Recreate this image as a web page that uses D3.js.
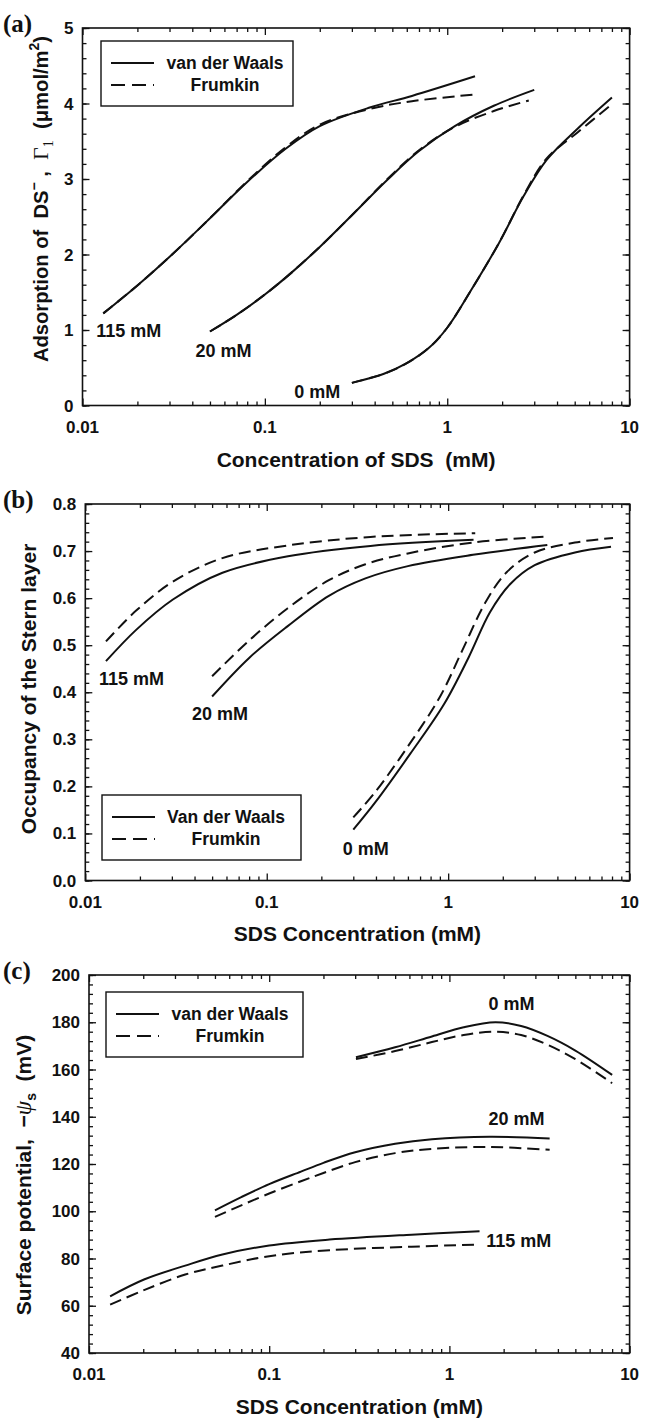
<!DOCTYPE html>
<html>
<head>
<meta charset="utf-8">
<script src="https://cdn.jsdelivr.net/npm/d3@7/dist/d3.min.js"></script>
<style>
  body { margin: 0; background: #fff; }
  svg { font-family: "Liberation Sans", Arial, Helvetica, sans-serif; font-weight: bold; }
  text { white-space: pre; }
</style>
</head>
<body>
<svg id="fig" width="646" height="1420"></svg>
<script>
// ---- datos ----
const xTickValues = [0.01, 0.1, 1, 10];
const xTickLabels = ["0.01", "0.1", "1", "10"];

// (a) adsorcion de DS- (umol/m2)
const yTicksA = [0, 1, 2, 3, 4, 5];
const a115vdw = [[0.013,1.22],[0.02,1.59],[0.031,2.0],[0.05,2.48],[0.08,2.96],[0.13,3.4],[0.2,3.7],[0.38,3.95],[0.64,4.1],[1.42,4.36]];
const a115fr  = [[0.013,1.22],[0.02,1.59],[0.031,2.0],[0.05,2.48],[0.08,2.97],[0.13,3.42],[0.2,3.72],[0.38,3.93],[0.64,4.03],[1.42,4.12]];
const a20vdw  = [[0.05,0.98],[0.07,1.2],[0.1,1.47],[0.14,1.76],[0.2,2.1],[0.3,2.52],[0.47,2.99],[0.7,3.37],[1.1,3.7],[1.8,3.97],[3.0,4.18]];
const a20fr   = [[0.05,0.98],[0.07,1.2],[0.1,1.47],[0.14,1.76],[0.2,2.1],[0.3,2.52],[0.47,3.0],[0.7,3.38],[1.1,3.69],[1.8,3.9],[2.8,4.04]];
const a0vdw   = [[0.3,0.3],[0.45,0.42],[0.6,0.56],[0.8,0.77],[1.0,1.03],[1.33,1.5],[1.92,2.15],[2.62,2.77],[3.5,3.25],[5.2,3.67],[8.0,4.08]];
const a0fr    = [[0.3,0.3],[0.45,0.42],[0.6,0.56],[0.8,0.77],[1.0,1.03],[1.33,1.5],[1.92,2.15],[2.62,2.78],[3.5,3.27],[5.2,3.62],[8.0,3.99]];
const labelsA = [["115 mM",0.0119,0.91],["20 mM",0.0417,0.64],["0 mM",0.145,0.10]];

// (b) ocupacion de la capa de Stern
const yTicksB = [0, 0.1, 0.2, 0.3, 0.4, 0.5, 0.6, 0.7, 0.8];
const b115vdw = [[0.013,0.466],[0.019,0.532],[0.0304,0.597],[0.057,0.654],[0.131,0.689],[0.373,0.711],[1.38,0.724]];
const b115fr  = [[0.013,0.508],[0.019,0.573],[0.0304,0.635],[0.057,0.685],[0.131,0.712],[0.373,0.73],[1.41,0.738]];
const b20vdw  = [[0.05,0.391],[0.08,0.473],[0.13,0.54],[0.22,0.605],[0.35,0.642],[0.6,0.668],[1.37,0.692],[3.52,0.713]];
const b20fr   = [[0.05,0.434],[0.08,0.51],[0.13,0.578],[0.22,0.638],[0.35,0.672],[0.6,0.695],[1.37,0.718],[3.52,0.731]];
const b0vdw   = [[0.3,0.108],[0.4,0.168],[0.62,0.27],[0.95,0.375],[1.3,0.475],[1.7,0.57],[2.2,0.63],[3.0,0.67],[5.0,0.697],[7.9,0.709]];
const b0fr    = [[0.3,0.134],[0.4,0.19],[0.6,0.285],[0.9,0.39],[1.2,0.49],[1.6,0.59],[2.1,0.655],[3.0,0.697],[5.0,0.718],[8.1,0.728]];
const labelsB = [["115 mM",0.0119,0.415],["20 mM",0.0387,0.341],["0 mM",0.262,0.054]];

// (c) potencial superficial (mV)
const yTicksC = [40, 60, 80, 100, 120, 140, 160, 180, 200];
const c0vdw   = [[0.303,165.2],[0.5,169.4],[0.8,174.0],[1.2,177.9],[1.8,180.0],[2.5,178.4],[3.5,174.2],[5.0,168.0],[8.0,157.7]];
const c0fr    = [[0.303,164.4],[0.5,167.8],[0.8,171.6],[1.2,174.6],[1.8,176.0],[2.5,174.6],[3.5,170.5],[5.0,164.4],[8.0,154.2]];
const c20vdw  = [[0.05,100.4],[0.07,106],[0.1,111.5],[0.15,116.8],[0.2,120.5],[0.3,125],[0.5,128.6],[0.8,130.5],[1.67,131.5],[3.6,130.8]];
const c20fr   = [[0.05,97.6],[0.07,102.5],[0.1,107.5],[0.15,112.7],[0.2,116.2],[0.3,120.8],[0.5,124.6],[0.8,126.4],[1.67,127.2],[3.6,126.0]];
const c115vdw = [[0.0131,64.0],[0.0202,71.1],[0.0342,77.0],[0.055,81.7],[0.1,85.5],[0.216,88.0],[0.617,90.1],[1.47,91.5]];
const c115fr  = [[0.0131,60.5],[0.0202,66.6],[0.0342,73.2],[0.055,77.0],[0.1,81.0],[0.216,83.5],[0.617,85.0],[1.47,85.9]];
const labelsC = [["0 mM",1.65,185.2],["20 mM",1.65,136.5],["115 mM",1.6,84.9]];

const SVG = d3.select("#fig");
const INK = "#111";
const DASH = "12,6";
const SERIF = "'Liberation Serif', 'Times New Roman', serif";

function panel(cfg) {
  const g = SVG.append("g");
  const x = d3.scaleLog().domain([0.01, 10]).range([cfg.left, cfg.right]);
  const y = d3.scaleLinear().domain(cfg.yDomain).range([cfg.bottom, cfg.top]);

  // ticks menores del eje x (2..9 en cada decada)
  const xMinor = [];
  xTickValues.slice(0, 3).forEach(d => d3.range(2, 10).forEach(k => xMinor.push(d * k)));
  const yMinor = d3.range(cfg.yDomain[0], cfg.yDomain[1] + 1e-9, cfg.yMinorStep);

  [[d3.axisBottom(x), cfg.bottom], [d3.axisTop(x), cfg.top]].forEach(([ax, ty]) => {
    g.append("g").attr("transform", `translate(0,${ty})`)
      .call(ax.tickValues(xMinor).tickSize(-4).tickFormat(""));
    g.append("g").attr("transform", `translate(0,${ty})`)
      .call(ax.tickValues(xTickValues).tickSize(-7).tickFormat(""));
  });
  [[d3.axisLeft(y), cfg.left], [d3.axisRight(y), cfg.right]].forEach(([ax, tx]) => {
    g.append("g").attr("transform", `translate(${tx},0)`)
      .call(ax.tickValues(yMinor).tickSize(-4).tickFormat(""));
    g.append("g").attr("transform", `translate(${tx},0)`)
      .call(ax.tickValues(cfg.yTicks).tickSize(-7).tickFormat(""));
  });
  g.selectAll(".domain").remove();
  g.selectAll(".tick line").attr("stroke", INK).attr("stroke-width", 1.3);

  // etiquetas de los ticks
  g.selectAll(".xl").data(xTickValues).join("text")
    .attr("x", d => x(d)).attr("y", cfg.bottom + 27)
    .attr("text-anchor", "middle").attr("font-size", 17).attr("fill", INK)
    .text((d, i) => xTickLabels[i]);
  g.selectAll(".yl").data(cfg.yTicks).join("text")
    .attr("x", cfg.left - 9).attr("y", d => y(d) + 6)
    .attr("text-anchor", "end").attr("font-size", 17).attr("fill", INK)
    .text(cfg.yFormat);

  // marco
  g.append("rect")
    .attr("x", cfg.left).attr("y", cfg.top)
    .attr("width", cfg.right - cfg.left).attr("height", cfg.bottom - cfg.top)
    .attr("fill", "none").attr("stroke", INK).attr("stroke-width", 1.6);

  // curvas
  const line = d3.line().x(d => x(d[0])).y(d => y(d[1])).curve(d3.curveCatmullRom.alpha(0.5));
  g.selectAll(".curve").data(cfg.series).join("path")
    .attr("d", d => line(d.pts))
    .attr("fill", "none").attr("stroke", INK).attr("stroke-width", 2)
    .attr("stroke-dasharray", d => d.dash ? DASH : null);

  // etiquetas de concentracion
  g.selectAll(".lab").data(cfg.labels).join("text")
    .attr("x", d => x(d[1])).attr("y", d => y(d[2]))
    .attr("font-size", 18).attr("fill", INK).text(d => d[0]);

  // leyenda
  const L = cfg.legend;
  g.append("rect").attr("x", L.x).attr("y", L.y).attr("width", L.w).attr("height", L.h)
    .attr("fill", "#fff").attr("stroke", INK).attr("stroke-width", 1.4);
  [[L.names[0], false, L.y + 22], [L.names[1], true, L.y + 44]].forEach(([name, dash, yy]) => {
    g.append("line").attr("x1", L.x + 10).attr("x2", L.x + 53).attr("y1", yy).attr("y2", yy)
      .attr("stroke", INK).attr("stroke-width", 2).attr("stroke-dasharray", dash ? "14,7" : null);
    g.append("text").attr("x", L.x + 124).attr("y", yy + 6).attr("text-anchor", "middle")
      .attr("font-size", 17.5).attr("fill", INK).text(name);
  });

  // letra del panel
  g.append("text").attr("x", 3).attr("y", cfg.top + 4)
    .attr("font-family", SERIF).attr("font-size", 25).attr("fill", INK).text(cfg.tag);

  // titulo del eje x
  g.append("text").attr("x", (cfg.left + cfg.right) / 2).attr("y", cfg.xTitleY)
    .attr("text-anchor", "middle").attr("font-size", 21).attr("fill", INK)
    .text(cfg.xTitle);

  return { g, x, y };
}

// (a)
const pa = panel({
  tag: "(a)", left: 82.5, right: 629.6, top: 28, bottom: 405.5,
  yDomain: [0, 5], yTicks: yTicksA, yMinorStep: 0.2, yFormat: d => d3.format("d")(d),
  series: [{pts: a115vdw}, {pts: a115fr, dash: true}, {pts: a20vdw}, {pts: a20fr, dash: true}, {pts: a0vdw}, {pts: a0fr, dash: true}],
  labels: labelsA,
  legend: {x: 101, y: 41, w: 192, h: 65, names: ["van der Waals", "Frumkin"]},
  xTitle: "Concentration of SDS  (mM)", xTitleY: 467
});
const ta = pa.g.append("text").attr("transform", "translate(48,199) rotate(-90)")
  .attr("text-anchor", "middle").attr("font-size", 20.2).attr("fill", INK);
ta.append("tspan").text("Adsorption of  DS");
ta.append("tspan").attr("dy", -9).attr("font-size", 14).text("\u2212");
ta.append("tspan").attr("dy", 9).text(" ,  ");
ta.append("tspan").attr("font-family", SERIF).attr("font-weight", "normal").attr("font-size", 22).text("\u0393");
ta.append("tspan").attr("dy", 5).attr("font-size", 14).attr("font-family", SERIF).attr("font-weight", "normal").text("1");
ta.append("tspan").attr("dy", -5).text("  (\u03bcmol/m");
ta.append("tspan").attr("dy", -9).attr("font-size", 14).text("2");
ta.append("tspan").attr("dy", 9).text(")");

// (b)
const pb = panel({
  tag: "(b)", left: 85.3, right: 629.6, top: 504, bottom: 880.5,
  yDomain: [0, 0.8], yTicks: yTicksB, yMinorStep: 0.02, yFormat: d => d3.format(".1f")(d),
  series: [{pts: b115vdw}, {pts: b115fr, dash: true}, {pts: b20vdw}, {pts: b20fr, dash: true}, {pts: b0vdw}, {pts: b0fr, dash: true}],
  labels: labelsB,
  legend: {x: 102, y: 795, w: 199, h: 65, names: ["Van der Waals", "Frumkin"]},
  xTitle: "SDS Concentration (mM)", xTitleY: 941
});
pb.g.append("text").attr("transform", "translate(36,689) rotate(-90)")
  .attr("text-anchor", "middle").attr("font-size", 21).attr("fill", INK)
  .text("Occupancy of the Stern layer");

// (c)
const pc = panel({
  tag: "(c)", left: 89, right: 629.6, top: 975, bottom: 1353,
  yDomain: [40, 200], yTicks: yTicksC, yMinorStep: 4, yFormat: d => d,
  series: [{pts: c0vdw}, {pts: c0fr, dash: true}, {pts: c20vdw}, {pts: c20fr, dash: true}, {pts: c115vdw}, {pts: c115fr, dash: true}],
  labels: labelsC,
  legend: {x: 106, y: 992, w: 197, h: 65, names: ["van der Waals", "Frumkin"]},
  xTitle: "SDS Concentration (mM)", xTitleY: 1414
});
const tc = pc.g.append("text").attr("transform", "translate(31,1175) rotate(-90)")
  .attr("text-anchor", "middle").attr("font-size", 21).attr("fill", INK);
tc.append("tspan").text("Surface potential,  \u2212");
tc.append("tspan").attr("font-family", SERIF).attr("font-style", "italic").attr("font-weight", "normal").attr("font-size", 23).text("\u03c8");
tc.append("tspan").attr("dy", 5).attr("font-size", 14).text("s");
tc.append("tspan").attr("dy", -5).text("  (mV)");
</script>
</body>
</html>
